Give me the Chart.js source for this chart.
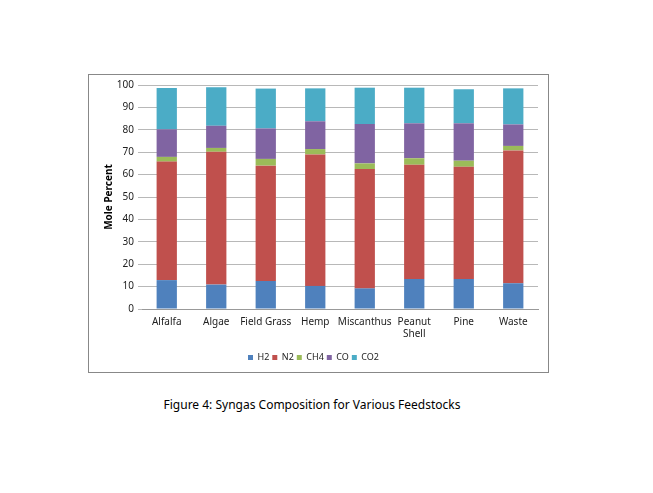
<!DOCTYPE html>
<html>
<head>
<meta charset="utf-8">
<script src="https://cdn.jsdelivr.net/npm/chart.js@4/dist/chart.umd.min.js"></script>
<style>
  html, body { margin: 0; padding: 0; background: #fff; }
  body { width: 653px; height: 493px; position: relative; overflow: hidden; }
  #box { position: absolute; left: 88px; top: 74px; width: 459px; height: 297px; border: 1px solid #888; }
  #caption { position: absolute; left: 0; width: 624px; top: 396px; text-align: center;
             font-family: "Noto Sans", sans-serif; font-size: 12px; color: #000; }
</style>
</head>
<body>
<div id="box"><canvas id="chart" width="459" height="297"></canvas></div>
<div id="caption">Figure 4: Syngas Composition for Various Feedstocks</div>
<script>
// feedstocks on the x axis
const feedstocks = ['Alfalfa', 'Algae', 'Field Grass', 'Hemp', 'Miscanthus', ['Peanut', 'Shell'], 'Pine', 'Waste'];

// mole percent of each gas
const h2  = [12.9, 10.9, 12.5, 10.3,  9.2, 13.4, 13.4, 11.5];
const n2  = [52.9, 59.3, 51.5, 58.7, 53.3, 51.0, 50.1, 59.3];
const ch4 = [ 2.1,  1.7,  3.0,  2.4,  2.5,  2.9,  2.7,  2.0];
const co  = [12.3,  9.9, 13.6, 12.4, 17.6, 15.6, 16.7,  9.6];
const co2 = [18.5, 17.2, 17.8, 14.7, 16.2, 15.9, 15.2, 16.1];

const yTicks = [0, 10, 20, 30, 40, 50, 60, 70, 80, 90, 100];

const font = { family: '"Noto Sans", sans-serif', size: 10 };

const series = [
    { label: 'H2',  data: h2,  color: '#4f81bd' },
    { label: 'N2',  data: n2,  color: '#c0504d' },
    { label: 'CH4', data: ch4, color: '#9bbb59' },
    { label: 'CO',  data: co,  color: '#8064a2' },
    { label: 'CO2', data: co2, color: '#4bacc6' }
];

new Chart(document.getElementById('chart').getContext('2d'), {
    type: 'bar',
    data: {
        labels: feedstocks,
        datasets: series.map(s => ({
            label: s.label,
            data: s.data,
            backgroundColor: s.color,
            borderWidth: 0,
            barPercentage: 0.41,
            categoryPercentage: 1
        }))
    },
    options: {
        responsive: false,
        animation: false,
        layout: { padding: { top: 10, right: 10, bottom: 0, left: 0 } },
        scales: {
            x: {
                stacked: true,
                afterFit: axis => { axis.height = 41; },
                grid: { display: false, drawOnChartArea: false, offset: true, tickLength: 4, color: '#999' },
                border: { color: '#999' },
                ticks: { color: '#222', font: font, maxRotation: 0, autoSkip: false, padding: 3 }
            },
            y: {
                stacked: true,
                min: 0,
                max: 100,
                afterBuildTicks: axis => { axis.ticks = yTicks.map(v => ({ value: v })); },
                afterFit: axis => { axis.width = 53; },
                grid: { color: '#b8b8b8', tickLength: 4 },
                border: { display: false },
                ticks: { color: '#222', font: font, padding: 4 },
                title: { display: true, text: 'Mole Percent', color: '#000',
                         font: { family: '"Noto Sans", sans-serif', size: 10, weight: 'bold' }, padding: { top: 14, bottom: 0 } }
            }
        },
        plugins: {
            legend: {
                position: 'bottom',
                labels: { boxWidth: 5, boxHeight: 5, font: { family: '"Noto Sans", sans-serif', size: 9 }, color: '#222', padding: 3 }
            },
            tooltip: { enabled: false }
        }
    }
});
</script>
</body>
</html>
